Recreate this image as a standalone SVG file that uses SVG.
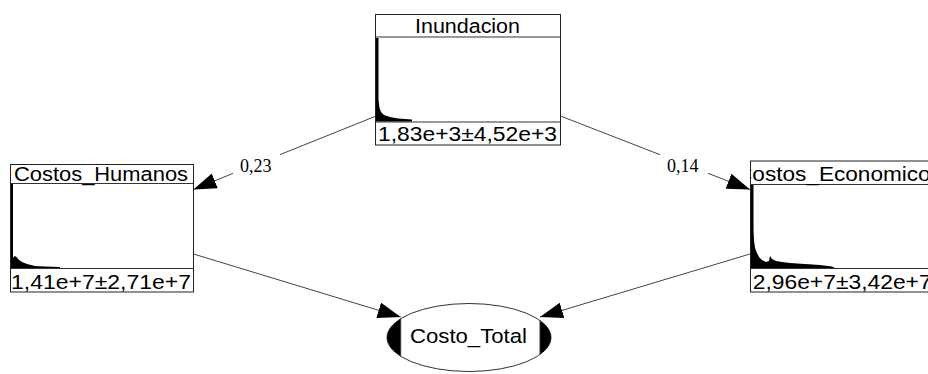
<svg xmlns="http://www.w3.org/2000/svg" width="928" height="374" viewBox="0 0 928 374">
<style>
.box{fill:#fff;stroke:#222;stroke-width:1}
.sep{stroke:#333;stroke-width:1}
.t{font-family:"Liberation Sans",Arial,sans-serif;font-size:20px;fill:#000}
.s{font-family:"Liberation Sans",Arial,sans-serif;font-size:20.5px;fill:#000}
.hist{fill:#000;stroke:none}
.edge{stroke:#444;stroke-width:1;fill:none}
.lbl{font-family:"Liberation Serif","Times New Roman",serif;font-size:18px;fill:#000}
</style>
<defs>
<marker id="ah" markerUnits="userSpaceOnUse" markerWidth="24" markerHeight="17" viewBox="0 0 24 17" refX="23" refY="8" orient="auto">
<path d="M0,0 L23,8 L0,16 Z" fill="#000"/>
</marker>
<clipPath id="clipEcon"><rect x="750.5" y="161" width="183" height="131"/></clipPath>
</defs>

<g id="Inundacion">
<rect class="box" x="375.5" y="14.5" width="185" height="130.5"/>
<line class="sep" x1="375.5" y1="37" x2="560.5" y2="37"/>
<line class="sep" x1="375.5" y1="122" x2="560.5" y2="122"/>
<path class="hist" d="M376,121.5 L376,38 L378.5,38 L378.5,100 L379.5,108 L381,112 L384,115 L390,117 L398,118.5 L412,119.5 L412,121.5 Z"/>
<text class="t" x="415" y="33" textLength="105" lengthAdjust="spacingAndGlyphs">Inundacion</text>
<text class="s" x="378" y="141" textLength="179" lengthAdjust="spacingAndGlyphs">1,83e+3±4,52e+3</text>
</g>

<g id="Costos_Humanos">
<rect class="box" x="10.5" y="164.5" width="183" height="127.5"/>
<line class="sep" x1="10.5" y1="183.5" x2="193.5" y2="183.5"/>
<line class="sep" x1="10.5" y1="268.5" x2="193.5" y2="268.5"/>
<path class="hist" d="M11,268 L11,184 L13,184 L13,258 L14.5,256 L16.5,257 L19,260 L22,262 L27,264 L35,266 L45,266.5 L60,267 L60,268 Z"/>
<text class="t" x="14" y="181" textLength="174" lengthAdjust="spacingAndGlyphs">Costos_Humanos</text>
<text class="s" x="11" y="289" textLength="180" lengthAdjust="spacingAndGlyphs">1,41e+7±2,71e+7</text>
</g>

<g id="Costos_Economicos">
<rect class="box" x="750.5" y="161" width="183" height="131"/>
<line class="sep" x1="750.5" y1="184.5" x2="933.5" y2="184.5"/>
<line class="sep" x1="750.5" y1="268.5" x2="933.5" y2="268.5"/>
<path class="hist" d="M751,268 L751,185 L753.5,185 L753.5,230 L754,240 L755,248 L757,253 L759,257 L762,260 L766,262 L769,261 L770,256 L772,259 L776,261 L782,262 L790,263 L805,264 L820,265 L832,266.5 L835,268 Z"/>
<g clip-path="url(#clipEcon)">
<text class="t" x="736" y="181" textLength="206" lengthAdjust="spacingAndGlyphs">Costos_Economicos</text>
</g>
<text class="s" x="752.7" y="288.5" textLength="179" lengthAdjust="spacingAndGlyphs">2,96e+7±3,42e+7</text>
</g>

<g id="Costo_Total">
<ellipse cx="469" cy="337.5" rx="82" ry="34" fill="#fff" stroke="#333" stroke-width="1"/>
<path d="M400.7,318.7 A82,34 0 0,0 400.7,356.3 Z" fill="#000"/>
<path d="M540,320.5 A82,34 0 0,1 540,354.5 Z" fill="#000"/>
<line class="sep" x1="400.7" y1="318.7" x2="400.7" y2="356.3"/>
<line class="sep" x1="540" y1="320.5" x2="540" y2="354.5"/>
<text class="s" x="410" y="343" textLength="117" lengthAdjust="spacingAndGlyphs">Costo_Total</text>
</g>

<g id="connectors">
<line class="edge" x1="375" y1="116.5" x2="280" y2="154.6"/>
<line class="edge" x1="233" y1="173.4" x2="193.5" y2="189.5" marker-end="url(#ah)"/>
<text class="lbl" x="240" y="172">0,23</text>
<line class="edge" x1="560.5" y1="116" x2="660" y2="154.7"/>
<line class="edge" x1="708" y1="173.3" x2="750" y2="189.5" marker-end="url(#ah)"/>
<text class="lbl" x="667" y="172">0,14</text>
<line class="edge" x1="193.5" y1="254" x2="400.7" y2="317" marker-end="url(#ah)"/>
<line class="edge" x1="750" y1="254" x2="540" y2="317" marker-end="url(#ah)"/>
</g>
</svg>
